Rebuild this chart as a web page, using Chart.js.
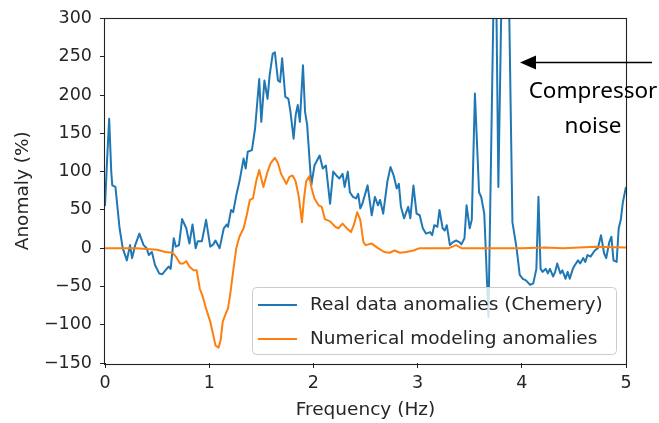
<!DOCTYPE html>
<html>
<head>
<meta charset="utf-8">
<script src="https://cdn.jsdelivr.net/npm/chart.js@4.4.0/dist/chart.umd.min.js"></script>
<style>
  html, body { margin: 0; padding: 0; background: #fff; }
  #chart { display: block; }
</style>
</head>
<body>
<canvas id="chart" width="659" height="423"></canvas>
<script>
// Real data anomalies (Chemery) - frequency in Hz, anomaly in %
const realFreq = [
  0.00, 0.02, 0.04, 0.06, 0.07, 0.10, 0.14, 0.17, 0.21, 0.24, 0.26, 0.29, 0.33, 0.37, 0.40,
  0.42, 0.45, 0.48, 0.52, 0.55, 0.58, 0.61, 0.63, 0.66, 0.68, 0.71, 0.74, 0.78, 0.81, 0.84,
  0.87, 0.89, 0.93, 0.97, 1.01, 1.04, 1.06, 1.10, 1.14, 1.17, 1.18, 1.21, 1.23, 1.26, 1.29,
  1.33, 1.35, 1.37, 1.41, 1.44, 1.48, 1.50, 1.53, 1.56, 1.58, 1.61, 1.63, 1.66, 1.68, 1.70,
  1.73, 1.76, 1.78, 1.81, 1.83, 1.85, 1.87, 1.90, 1.92, 1.94, 1.98, 2.01, 2.06, 2.09, 2.12,
  2.16, 2.19, 2.22, 2.25, 2.28, 2.30, 2.33, 2.35, 2.38, 2.41, 2.43, 2.45, 2.47, 2.52, 2.56,
  2.59, 2.62, 2.64, 2.67, 2.71, 2.74, 2.77, 2.80, 2.82, 2.84, 2.87, 2.91, 2.93, 2.96, 2.99,
  3.02, 3.05, 3.08, 3.12, 3.14, 3.16, 3.19, 3.21, 3.24, 3.26, 3.28, 3.31, 3.34, 3.37, 3.40,
  3.42, 3.45, 3.47, 3.50, 3.52, 3.55, 3.59, 3.61, 3.64, 3.68, 3.745, 3.775, 3.82, 3.86, 3.91,
  3.95, 3.98, 4.01, 4.04, 4.08, 4.11, 4.14, 4.16, 4.18, 4.20, 4.23, 4.25, 4.27, 4.30, 4.32,
  4.34, 4.37, 4.39, 4.42, 4.44, 4.46, 4.49, 4.51, 4.54, 4.56, 4.59, 4.61, 4.63, 4.66, 4.70,
  4.73, 4.76, 4.79, 4.81, 4.84, 4.86, 4.88, 4.91, 4.93, 4.95, 4.97, 5.00
];
const realAnomaly = [
  55, 115, 169, 100, 82, 80, 26, 0, -16, 4, -13, 4, 19, 4, 0,
  -9, -5, -22, -33, -34, -29, -24, -27, 13, 2, 4, 38, 26, 6, 31,
  0, 9, 9, 37, 2, 5, 10, 0, 26, 31, 28, 50, 47, 69, 87,
  117, 104, 126, 128, 156, 221, 165, 219, 195, 226, 254, 256, 219, 217, 248,
  198, 195, 178, 143, 174, 187, 165, 239, 178, 161, 82, 108, 121, 104, 108,
  58, 100, 95, 91, 97, 80, 100, 73, 67, 65, 71, 52, 58, 82, 43,
  67, 56, 63, 45, 87, 106, 95, 78, 84, 54, 39, 54, 39, 82, 45,
  43, 26, 19, 21, 17, 30, 28, 50, 26, 23, 30, 4, 8, 10, 8,
  5, 13, 56, 26, 37, 202, 73, 67, 45, -90, 460, 80, 450, 480, 34,
  0, -35, -40, -42, -48, -46, -27, 67, -27, -31, -27, -33, -27, -37, -31,
  -20, -33, -29, -40, -31, -40, -27, -22, -16, -20, -13, -18, -9, -11, -3,
  0, 17, -7, -13, 8, 15, -16, -18, 26, 37, 60, 80
];

// Numerical modeling anomalies
const modelFreq = [
  0.00, 0.30, 0.40, 0.50, 0.58, 0.65, 0.68, 0.72, 0.75, 0.78, 0.81, 0.85, 0.88, 0.91, 0.94,
  0.97, 1.01, 1.04, 1.06, 1.09, 1.11, 1.13, 1.16, 1.18, 1.20, 1.23, 1.26, 1.29, 1.33, 1.36,
  1.39, 1.42, 1.45, 1.48, 1.50, 1.52, 1.56, 1.59, 1.63, 1.66, 1.69, 1.74, 1.77, 1.80, 1.83,
  1.86, 1.89, 1.91, 1.93, 1.96, 1.98, 2.01, 2.05, 2.08, 2.11, 2.16, 2.21, 2.24, 2.28, 2.32,
  2.36, 2.39, 2.42, 2.45, 2.48, 2.50, 2.56, 2.62, 2.68, 2.73, 2.78, 2.83, 2.89, 2.96, 3.02,
  3.30, 3.37, 3.42, 4.00, 4.22, 4.40, 4.70, 5.00
];
const modelAnomaly = [
  0, 0, -1, -2, -5, -6, -11, -20, -20, -17, -24, -29, -29, -53, -64,
  -79, -96, -114, -127, -130, -120, -96, -85, -79, -62, -30, 0, 15, 26, 43,
  63, 65, 87, 102, 91, 80, 100, 111, 118, 111, 97, 84, 93, 95, 87,
  67, 34, 65, 87, 94, 80, 65, 56, 54, 38, 35, 28, 26, 32, 26,
  21, 31, 47, 37, 8, 4, 6, 0, -5, -6, -3, -6, -5, -3, 0,
  0, 4, 0, 0, 1, 0, 2, 1
];

const xTicks = [0, 1, 2, 3, 4, 5];
const yTicks = [-150, -100, -50, 0, 50, 100, 150, 200, 250, 300];

const seriesLabels = ['Real data anomalies (Chemery)', 'Numerical modeling anomalies'];
const seriesColors = ['#1f77b4', '#ff7f0e'];

const toPoints = (xs, ys) => xs.map((x, i) => ({ x: x, y: ys[i] }));
const minusSign = v => String(v).replace('-', '\u2212');

// legend box drawn inside the plot, lower right
const legendBox = {
  id: 'legendBox',
  afterDatasetsDraw(chart) {
    const ctx = chart.ctx;
    const x = 252, y = 287, w = 364, h = 67, r = 4;
    ctx.save();
    ctx.beginPath();
    ctx.roundRect(x + 0.5, y + 0.5, w, h, r);
    ctx.fillStyle = 'rgba(255,255,255,0.8)';
    ctx.fill();
    ctx.strokeStyle = '#cccccc';
    ctx.lineWidth = 1;
    ctx.stroke();
    ctx.font = '18.5px "DejaVu Sans"';
    ctx.textBaseline = 'middle';
    ctx.fillStyle = '#262626';
    [305, 339].forEach((ly, i) => {
      ctx.beginPath();
      ctx.moveTo(258, ly);
      ctx.lineTo(297, ly);
      ctx.strokeStyle = seriesColors[i];
      ctx.lineWidth = 2;
      ctx.stroke();
      ctx.fillText(seriesLabels[i], 310, ly);
    });
    ctx.restore();
  }
};

// frame and the "Compressor noise" arrow
const frameAndNote = {
  id: 'frameAndNote',
  afterDraw(chart) {
    const ctx = chart.ctx;
    const a = chart.chartArea;
    ctx.save();
    ctx.strokeStyle = '#222';
    ctx.lineWidth = 1.1;
    ctx.strokeRect(Math.round(a.left) - 0.5, Math.round(a.top) - 0.5,
      Math.round(a.right - a.left) + 1, Math.round(a.bottom - a.top) + 1);

    ctx.strokeStyle = '#000';
    ctx.fillStyle = '#000';
    ctx.lineWidth = 1.3;
    ctx.beginPath();
    ctx.moveTo(652, 62.5);
    ctx.lineTo(534, 62.5);
    ctx.stroke();
    ctx.beginPath();
    ctx.moveTo(520, 62.5);
    ctx.lineTo(536, 55.5);
    ctx.lineTo(536, 69.5);
    ctx.closePath();
    ctx.fill();

    ctx.font = '22.5px "Noto Sans"';
    ctx.textAlign = 'center';
    ctx.textBaseline = 'alphabetic';
    ctx.fillText('Compressor', 593, 98);
    ctx.fillText('noise', 593, 133);
    ctx.restore();
  }
};

const tickFont = { family: 'DejaVu Sans', size: 17.5 };
const titleFont = { family: 'DejaVu Sans', size: 18.5 };

new Chart(document.getElementById('chart'), {
  type: 'line',
  data: {
    datasets: [{
      label: seriesLabels[0],
      data: toPoints(realFreq, realAnomaly),
      borderColor: seriesColors[0],
      borderWidth: 2,
      pointRadius: 0,
      tension: 0,
      borderJoinStyle: 'round',
      order: 2
    }, {
      label: seriesLabels[1],
      data: toPoints(modelFreq, modelAnomaly),
      borderColor: seriesColors[1],
      borderWidth: 2,
      pointRadius: 0,
      tension: 0,
      borderJoinStyle: 'round',
      order: 1
    }]
  },
  options: {
    responsive: false,
    animation: false,
    devicePixelRatio: 1,
    layout: { padding: { left: 0, right: 33, top: 18, bottom: 0 } },
    plugins: {
      legend: { display: false },
      tooltip: { enabled: false }
    },
    scales: {
      x: {
        type: 'linear',
        min: 0,
        max: 5,
        afterBuildTicks: s => { s.ticks = xTicks.map(v => ({ value: v })); },
        afterFit: s => { s.height = 60; },
        border: { display: false },
        grid: { drawOnChartArea: false, tickLength: 5, tickColor: '#222' },
        ticks: { font: tickFont, color: '#262626', padding: 5, maxRotation: 0,
          callback: v => minusSign(v) },
        title: { display: true, text: 'Frequency (Hz)', font: titleFont, color: '#262626',
          padding: { top: 0, bottom: 2 } }
      },
      y: {
        min: -150,
        max: 300,
        afterBuildTicks: s => { s.ticks = yTicks.map(v => ({ value: v })); },
        afterFit: s => { s.width = 105; },
        border: { display: false },
        grid: { drawOnChartArea: false, tickLength: 5, tickColor: '#222' },
        ticks: { font: tickFont, color: '#262626', padding: 8,
          callback: v => minusSign(v) },
        title: { display: true, text: 'Anomaly (%)', font: titleFont, color: '#262626',
          padding: { top: 12, bottom: 0 } }
      }
    }
  },
  plugins: [legendBox, frameAndNote]
});
</script>
</body>
</html>
